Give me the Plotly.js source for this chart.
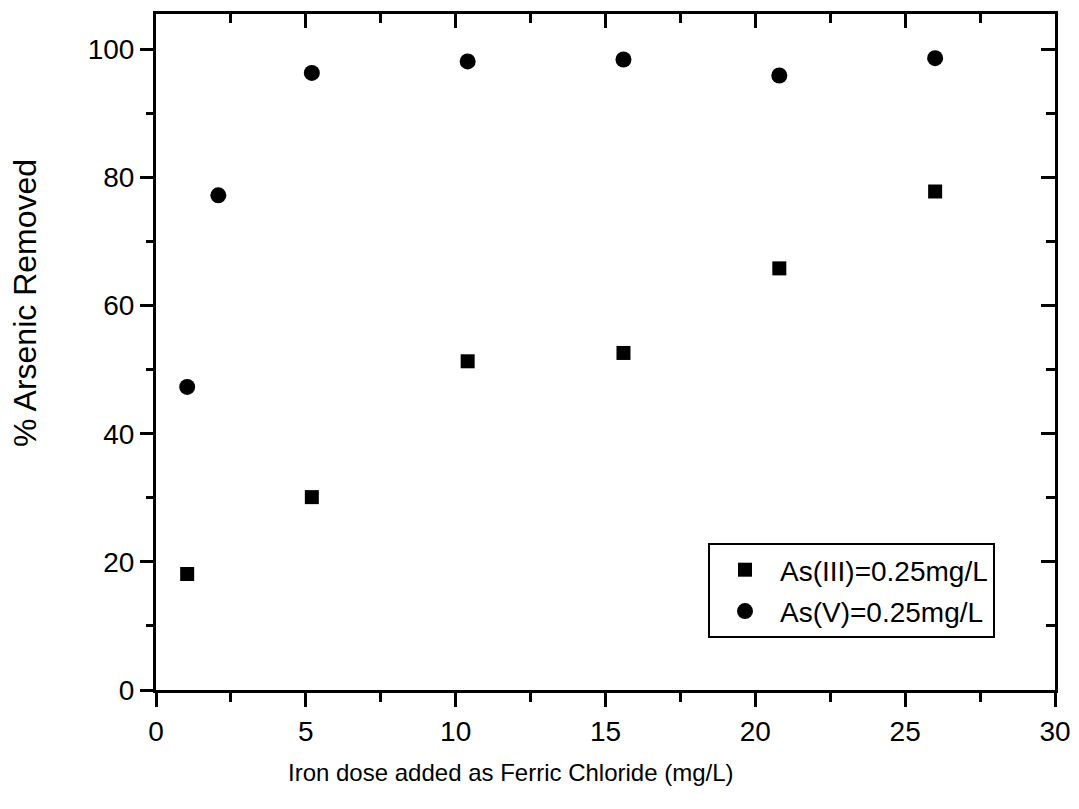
<!DOCTYPE html>
<html>
<head>
<meta charset="utf-8">
<script src="https://cdn.plot.ly/plotly-3.0.1.min.js"></script>
<style>html,body{margin:0;padding:0;background:#fff;}#chart{width:1079px;height:809px;}</style>
</head>
<body>
<div id="chart"></div>
<script>
// Iron dose (mg/L) and % arsenic removed
const doseAs3 = [1.04, 5.2, 10.4, 15.6, 20.8, 26.0];
const removedAs3 = [18.1, 30.1, 51.3, 52.6, 65.8, 77.8];
const doseAs5 = [1.04, 2.08, 5.2, 10.4, 15.6, 20.8, 26.0];
const removedAs5 = [47.3, 77.2, 96.3, 98.1, 98.4, 95.9, 98.6];
const seriesNames = ['As(III)=0.25mg/L', 'As(V)=0.25mg/L'];
const xTitle = 'Iron dose added as Ferric Chloride (mg/L)';
const yTitle = '% Arsenic Removed';

const FONT = '"Liberation Sans", Arial, Helvetica, sans-serif';
const xRange = [0, 30];
const yRange = [0, 105.5];

const L = 156, R = 24, T = 14, B = 119;
const PW = 1079 - L - R, PH = 809 - T - B;

const traces = [
  {x: doseAs3, y: removedAs3, type: 'scatter', mode: 'markers', name: seriesNames[0],
   legendgroup: 'a', marker: {symbol: 'square', size: 14, color: '#000'}},
  {x: doseAs5, y: removedAs5, type: 'scatter', mode: 'markers', name: seriesNames[1],
   legendgroup: 'b', marker: {symbol: 'circle', size: 16, color: '#000'}},
  {x: [], y: [], xaxis: 'x2', yaxis: 'y2', type: 'scatter', mode: 'markers',
   showlegend: false, hoverinfo: 'skip'}
];

const tickFont = {family: FONT, size: 28, color: '#000'};
const baseAxis = {
  showline: true, linecolor: '#000', linewidth: 3, showgrid: false, zeroline: false,
  tickcolor: '#000', tickwidth: 3
};

const layout = {
  width: 1079, height: 809,
  margin: {l: L, r: R, t: T, b: B, pad: 0},
  paper_bgcolor: '#fff', plot_bgcolor: '#fff',
  font: {family: FONT, color: '#000'},
  showlegend: true,
  legend: {
    x: (708 - L) / PW, y: (690 - 543) / PH, xanchor: 'left', yanchor: 'top',
    bordercolor: '#000', borderwidth: 2, bgcolor: '#fff',
    font: {family: FONT, size: 28, color: '#000'},
    traceorder: 'grouped', tracegroupgap: 2, itemwidth: 60
  },
  xaxis: Object.assign({}, baseAxis, {
    range: xRange, tick0: 0, dtick: 5, ticks: 'outside', ticklen: 14, tickfont: tickFont,
    minor: {dtick: 2.5, ticks: 'outside', ticklen: 9, tickwidth: 3, tickcolor: '#000', showgrid: false},
    ticklabelstandoff: 0
  }),
  yaxis: Object.assign({}, baseAxis, {
    range: yRange, tick0: 0, dtick: 20, ticks: 'outside', ticklen: 13, tickfont: tickFont,
    minor: {dtick: 10, ticks: 'outside', ticklen: 7, tickwidth: 3, tickcolor: '#000', showgrid: false},
    ticklabelstandoff: 0
  }),
  xaxis2: Object.assign({}, baseAxis, {
    range: xRange, overlaying: 'x', side: 'top', anchor: 'y', tick0: 0, dtick: 5,
    ticks: 'inside', ticklen: 14, showticklabels: false,
    minor: {dtick: 2.5, ticks: 'inside', ticklen: 9, tickwidth: 3, tickcolor: '#000', showgrid: false}
  }),
  yaxis2: Object.assign({}, baseAxis, {
    range: yRange, overlaying: 'y', side: 'right', anchor: 'x', tick0: 0, dtick: 20,
    ticks: 'inside', ticklen: 14, showticklabels: false,
    minor: {dtick: 10, ticks: 'inside', ticklen: 9, tickwidth: 3, tickcolor: '#000', showgrid: false}
  }),
  annotations: [
    {text: xTitle, xref: 'paper', yref: 'paper', x: (511 - L) / PW, y: -(773 - 690) / PH,
     xanchor: 'center', yanchor: 'middle', showarrow: false,
     font: {family: FONT, size: 24, color: '#000'}},
    {text: yTitle, xref: 'paper', yref: 'paper', x: -(L - 25) / PW, y: (690 - 303) / PH,
     xanchor: 'center', yanchor: 'middle', showarrow: false, textangle: -90,
     font: {family: FONT, size: 32, color: '#000'}}
  ]
};

Plotly.newPlot('chart', traces, layout, {displayModeBar: false, staticPlot: true});
</script>
</body>
</html>
